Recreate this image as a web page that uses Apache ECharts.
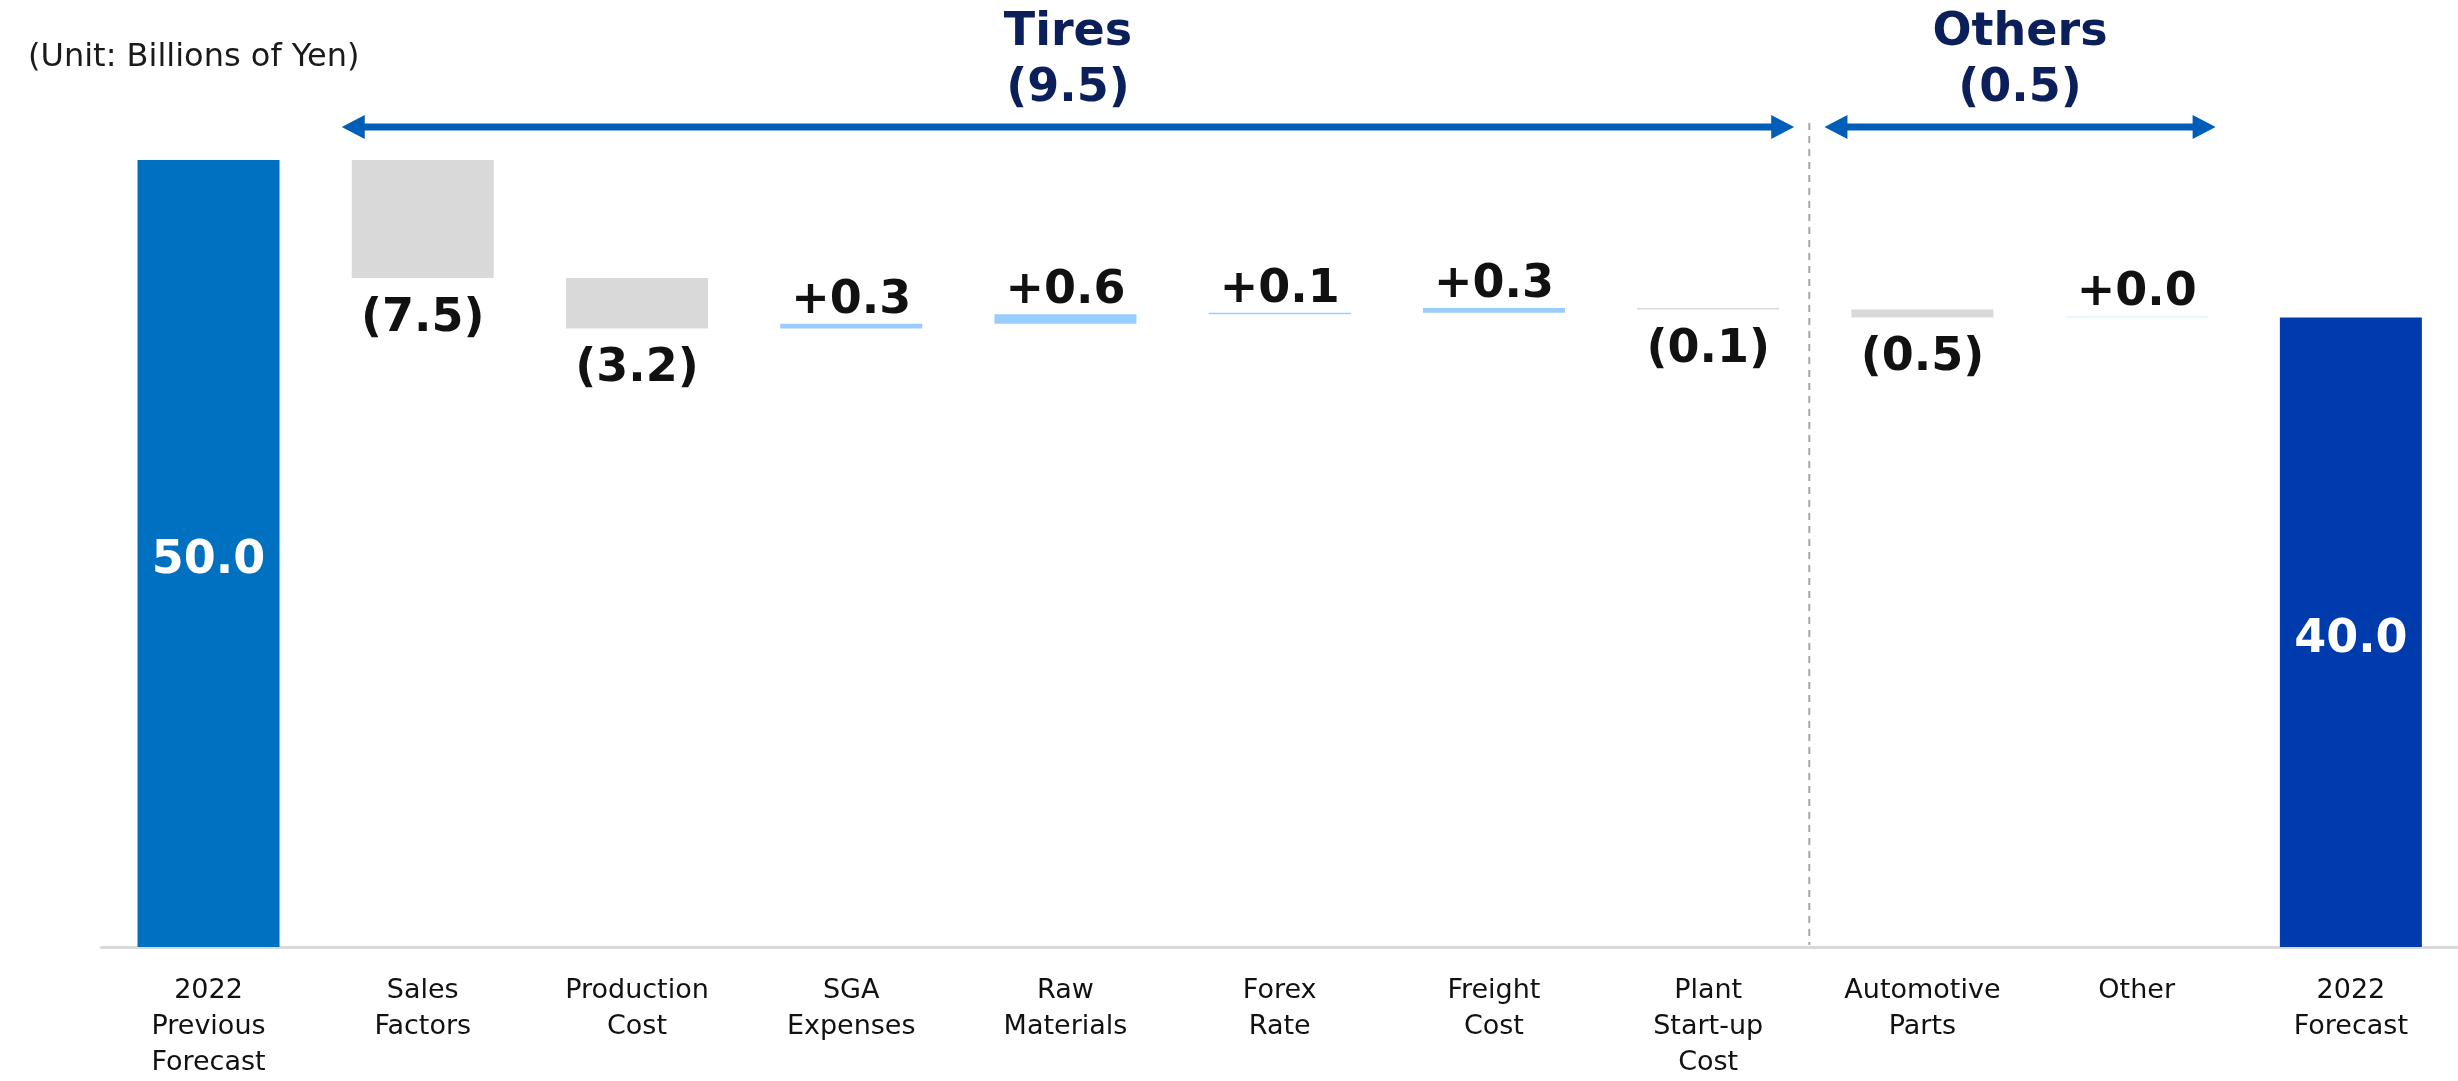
<!DOCTYPE html>
<html>
<head>
<meta charset="utf-8">
<title>Operating Income Forecast Bridge</title>
<script src="https://cdn.jsdelivr.net/npm/echarts@6/dist/echarts.min.js"></script>
<style>
  html, body { margin: 0; padding: 0; background: #ffffff; }
  #chart { width: 2458px; height: 1081px; }
</style>
</head>
<body>
<div id="chart"></div>
<script>
// Categories along the bridge, from the previous forecast to the new one
const categories = [
  '2022\nPrevious\nForecast', 'Sales\nFactors', 'Production\nCost', 'SGA\nExpenses',
  'Raw\nMaterials', 'Forex\nRate', 'Freight\nCost', 'Plant\nStart-up\nCost',
  'Automotive\nParts', 'Other', '2022\nForecast'
];
// Opening and closing totals (billions of yen)
const startValue = 50.0;
const endValue = 40.0;
// Changes between the two totals, one per intermediate category
const deltas = [-7.5, -3.2, 0.3, 0.6, 0.1, 0.3, -0.1, -0.5, 0.0];
// Segment brackets drawn above the bars
const groupNames = ['Tires', 'Others'];
const groupTotals = [-9.5, -0.5];
const groupFirst = [1, 8];
const groupLast = [7, 9];

const FONT = '"DejaVu Sans", Verdana, sans-serif';
const COLOR_START = '#0070C0';
const COLOR_END = '#003BAE';
const COLOR_UP = '#99CCFF';
const COLOR_ZERO = '#DCEBFB';
const COLOR_DOWN = '#D9D9D9';
const ARROW = '#005EB8';
const NAVY = '#0B1F5B';

function fmtDelta(v) {
  return v < 0 ? '(' + Math.abs(v).toFixed(1) + ')' : '+' + v.toFixed(1);
}
function fmtTotal(v) {
  return (v < 0 ? '(' + Math.abs(v).toFixed(1) + ')' : v.toFixed(1));
}

// Build invisible bases and visible pieces of the waterfall
const totalLabel = function (v) {
  return { position: 'inside', color: '#ffffff', offset: [0, 8], formatter: fmtTotal(v) };
};
const baseData = [0];
const barData = [{
  value: startValue,
  itemStyle: { color: COLOR_START },
  label: totalLabel(startValue)
}];
let running = startValue;
deltas.forEach(function (d) {
  let base;
  if (d >= 0) { base = running; running += d; }
  else { running += d; base = running; }
  baseData.push(+base.toFixed(4));
  barData.push({
    value: Math.abs(d),
    itemStyle: { color: d > 0 ? COLOR_UP : (d < 0 ? COLOR_DOWN : COLOR_ZERO) },
    label: d >= 0
      ? { position: 'top', distance: 0, formatter: fmtDelta(d) }
      : { position: 'bottom', distance: 18, formatter: fmtDelta(d) }
  });
});
baseData.push(0);
barData.push({
  value: endValue,
  itemStyle: { color: COLOR_END },
  label: totalLabel(endValue)
});

const chart = echarts.init(document.getElementById('chart'), null, { renderer: 'canvas' });

chart.setOption({
  animation: false,
  backgroundColor: '#ffffff',
  grid: { left: 101.4, right: 0, top: 160, bottom: 126, containLabel: false },
  xAxis: {
    type: 'category',
    data: categories,
    axisLine: { lineStyle: { color: '#D9D9D9', width: 3 } },
    axisTick: { show: false },
    axisLabel: {
      interval: 0,
      margin: 26,
      fontSize: 27,
      lineHeight: 36,
      color: '#111111',
      fontFamily: FONT
    }
  },
  yAxis: {
    type: 'value',
    min: 0,
    max: 50,
    show: false,
    splitLine: { show: false }
  },
  series: [
    {
      name: 'base',
      type: 'bar',
      stack: 'bridge',
      barWidth: 142,
      silent: true,
      itemStyle: { color: 'transparent' },
      data: baseData
    },
    {
      name: 'change',
      type: 'bar',
      stack: 'bridge',
      barWidth: 142,
      barMinHeight: 1,
      label: {
        show: true,
        fontSize: 46,
        lineHeight: 46,
        fontWeight: 'bold',
        fontFamily: FONT,
        color: '#111111'
      },
      data: barData
    }
  ]
});

// Segment brackets, divider and unit note, positioned from the axes
function drawAnnotations() {
  const cx = function (i) { return chart.convertToPixel({ xAxisIndex: 0 }, i); };
  const yZero = chart.convertToPixel({ yAxisIndex: 0 }, 0);
  const arrowY = 127;
  const head = 23, half = 12;
  const spans = [
    [cx(groupFirst[0]) - 81, cx(groupLast[0]) + 86],
    [cx(groupFirst[1]) - 98, cx(groupLast[1]) + 79]
  ];
  const elements = [];
  spans.forEach(function (s, k) {
    const x1 = s[0], x2 = s[1];
    elements.push({
      type: 'line',
      shape: { x1: x1 + head - 2, y1: arrowY, x2: x2 - head + 2, y2: arrowY },
      style: { stroke: ARROW, lineWidth: 7 }
    });
    elements.push({
      type: 'polygon',
      shape: { points: [[x1, arrowY], [x1 + head, arrowY - half], [x1 + head, arrowY + half]] },
      style: { fill: ARROW }
    });
    elements.push({
      type: 'polygon',
      shape: { points: [[x2, arrowY], [x2 - head, arrowY - half], [x2 - head, arrowY + half]] },
      style: { fill: ARROW }
    });
    const mid = (x1 + x2) / 2;
    elements.push({
      type: 'text',
      x: mid, y: 33,
      style: {
        text: groupNames[k], fill: NAVY, fontSize: 46, fontWeight: 'bold',
        fontFamily: FONT, align: 'center', verticalAlign: 'middle'
      }
    });
    elements.push({
      type: 'text',
      x: mid, y: 89,
      style: {
        text: fmtTotal(groupTotals[k]), fill: NAVY, fontSize: 46, fontWeight: 'bold',
        fontFamily: FONT, align: 'center', verticalAlign: 'middle'
      }
    });
  });
  const divX = (cx(groupLast[0]) + cx(groupFirst[1])) / 2 - 6;
  elements.push({
    type: 'line',
    shape: { x1: divX, y1: 123, x2: divX, y2: yZero - 2 },
    style: { stroke: '#A6A6A6', lineWidth: 2, lineDash: [7, 6] }
  });
  elements.push({
    type: 'text',
    x: 28, y: 58,
    style: {
      text: '(Unit: Billions of Yen)', fill: '#1A1A1A', fontSize: 32,
      fontFamily: FONT, align: 'left', verticalAlign: 'middle'
    }
  });
  chart.setOption({ graphic: { elements: elements } });
}
drawAnnotations();
</script>
</body>
</html>
